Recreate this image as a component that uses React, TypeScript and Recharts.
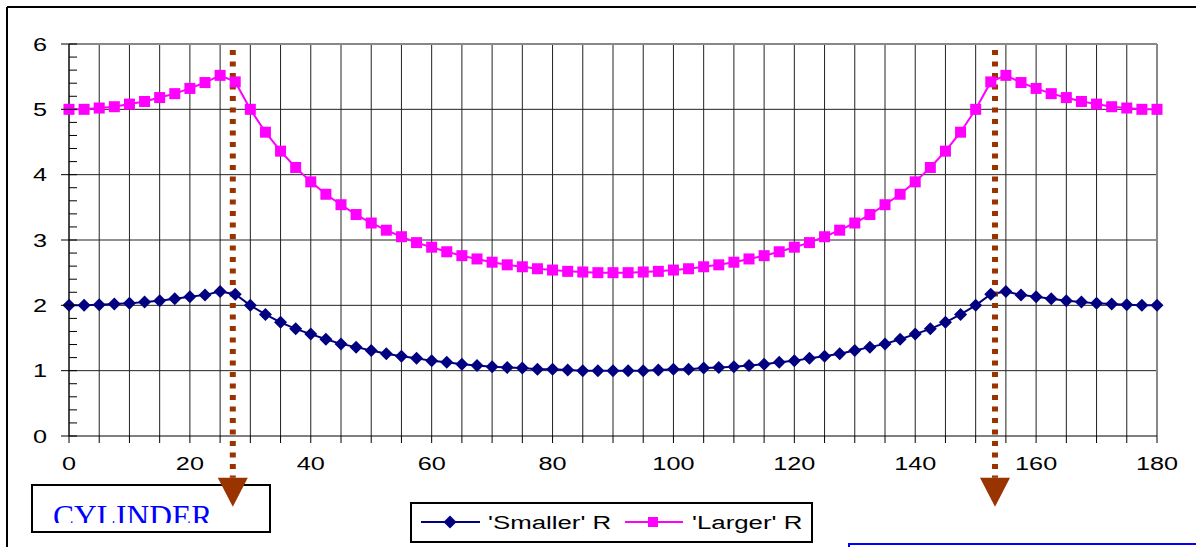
import { LineChart, Line, XAxis, YAxis, CartesianGrid, ReferenceLine, ReferenceDot } from 'recharts';

// angle in degrees, one point every 2.5
const ANGLES = [
  0, 2.5, 5, 7.5, 10, 12.5, 15, 17.5, 20, 22.5, 25, 27.5, 30, 32.5, 35, 37.5, 40, 42.5, 45, 47.5,
  50, 52.5, 55, 57.5, 60, 62.5, 65, 67.5, 70, 72.5, 75, 77.5, 80, 82.5, 85, 87.5, 90, 92.5, 95, 97.5,
  100, 102.5, 105, 107.5, 110, 112.5, 115, 117.5, 120, 122.5, 125, 127.5, 130, 132.5, 135, 137.5,
  140, 142.5, 145, 147.5, 150, 152.5, 155, 157.5, 160, 162.5, 165, 167.5, 170, 172.5, 175, 177.5, 180,
];

const SMALLER_R = [
  2.0, 2.0, 2.01, 2.02, 2.03, 2.05, 2.07, 2.1, 2.13, 2.16, 2.21, 2.17, 2.0, 1.86, 1.74, 1.64, 1.56, 1.48, 1.41, 1.36,
  1.31, 1.26, 1.22, 1.19, 1.15, 1.13, 1.1, 1.08, 1.06, 1.05, 1.04, 1.02, 1.02, 1.01, 1.0, 1.0, 1.0,
  1.0, 1.0, 1.01, 1.02, 1.02, 1.04, 1.05, 1.06, 1.08, 1.1, 1.13, 1.15, 1.19, 1.22, 1.26, 1.31, 1.36, 1.41, 1.48, 1.56,
  1.64, 1.74, 1.86, 2.0, 2.17, 2.21, 2.16, 2.13, 2.1, 2.07, 2.05, 2.03, 2.02, 2.01, 2.0, 2.0,
];

const LARGER_R = [
  5.0, 5.0, 5.02, 5.04, 5.08, 5.12, 5.18, 5.24, 5.32, 5.41, 5.52, 5.42, 5.0, 4.65, 4.36, 4.11, 3.89, 3.7, 3.54, 3.39,
  3.26, 3.15, 3.05, 2.96, 2.89, 2.82, 2.76, 2.71, 2.66, 2.62, 2.59, 2.56, 2.54, 2.52, 2.51, 2.5, 2.5,
  2.5, 2.51, 2.52, 2.54, 2.56, 2.59, 2.62, 2.66, 2.71, 2.76, 2.82, 2.89, 2.96, 3.05, 3.15, 3.26, 3.39, 3.54, 3.7, 3.89,
  4.11, 4.36, 4.65, 5.0, 5.42, 5.52, 5.41, 5.32, 5.24, 5.18, 5.12, 5.08, 5.04, 5.02, 5.0, 5.0,
];

const X_TICKS = [
  0, 5, 10, 15, 20, 25, 30, 35, 40, 45, 50, 55, 60, 65, 70, 75, 80, 85, 90,
  95, 100, 105, 110, 115, 120, 125, 130, 135, 140, 145, 150, 155, 160, 165, 170, 175, 180,
];
const X_LABELS = [0, 20, 40, 60, 80, 100, 120, 140, 160, 180];
const Y_TICKS = [
  0, 0.2, 0.4, 0.6, 0.8, 1, 1.2, 1.4, 1.6, 1.8, 2, 2.2, 2.4, 2.6, 2.8, 3,
  3.2, 3.4, 3.6, 3.8, 4, 4.2, 4.4, 4.6, 4.8, 5, 5.2, 5.4, 5.6, 5.8, 6,
];
const Y_GRID = [1, 2, 3, 4, 5];
const ARROW_ANGLES = [27.1, 153.2];
const SERIES_NAMES = ["'Smaller' R", "'Larger' R"];

const data = ANGLES.map((a, i) => ({ angle: a, smaller: SMALLER_R[i], larger: LARGER_R[i] }));

const FONT = "'Liberation Sans', Arial, sans-serif";
const NAVY = '#000080';
const MAGENTA = '#FF00FF';
const BROWN = '#993300';

const XTick = (props: any) => {
  const { x, y, payload } = props;
  const v = payload.value;
  return (
    <g>
      <line x1={x} x2={x} y1={y} y2={y + 7} stroke="#000" />
      {X_LABELS.includes(v) && (
        <text transform={`translate(${x},${y + 21}) scale(1.33,1)`} textAnchor="middle" dy="0.71em"
          fontFamily={FONT} fontSize={19} fill="#000">{v}</text>
      )}
    </g>
  );
};

const YTick = (props: any) => {
  const { x, y, payload } = props;
  const v = payload.value;
  const major = Math.abs(v - Math.round(v)) < 1e-6;
  return (
    <g>
      <line x1={major ? x - 8 : x} x2={x + 8} y1={y} y2={y} stroke="#000" />
      {major && (
        <text transform={`translate(${x - 22},${y}) scale(1.33,1)`} textAnchor="end" dy="0.355em"
          fontFamily={FONT} fontSize={19} fill="#000">{Math.round(v)}</text>
      )}
    </g>
  );
};

const Diamond = (p: any) => {
  const { cx, cy, index } = p;
  return <path key={`d${index}`} d={`M${cx},${cy - 6.5}L${cx + 6.5},${cy}L${cx},${cy + 6.5}L${cx - 6.5},${cy}Z`} fill={NAVY} />;
};

const Square = (p: any) => {
  const { cx, cy, index } = p;
  return <rect key={`s${index}`} x={cx - 5.5} y={cy - 5.5} width={11} height={11} fill={MAGENTA} />;
};

const ArrowHead = (p: any) => {
  const { cx, cy } = p;
  return <polygon points={`${cx - 15},${cy} ${cx + 15},${cy} ${cx},${cy + 29}`} fill={BROWN} />;
};

export default function App() {
  return (
    <div style={{ position: 'absolute', left: 0, top: 0, width: 1196, height: 547, background: '#fff' }}>
      {/* decorations sit under the transparent chart so the arrow heads overlap them */}
      <svg width={1196} height={547} style={{ position: 'absolute', left: 0, top: 0 }}>
        <defs>
          <clipPath id="cylClip">
            <rect x={33} y={485} width={236} height={38} />
          </clipPath>
        </defs>
        <line x1={7} y1={7} x2={1196} y2={7} stroke="#000" strokeWidth={2} />
        <line x1={7} y1={7} x2={7} y2={547} stroke="#000" strokeWidth={2} />
        <rect x={32} y={485} width={238} height={47} fill="#fff" stroke="#000" strokeWidth={2} />
        <text x={53} y={527} clipPath="url(#cylClip)" fontFamily="'Liberation Serif', 'Times New Roman', serif"
          fontSize={31.5} fill="#0000FF">CYLINDER</text>
        <polyline points="849,548 849,544 1196,544" fill="none" stroke="#0000FF" strokeWidth={2} />
        <rect x={411} y={503} width={401} height={39} fill="#fff" stroke="#000" strokeWidth={2} />
        <line x1={421} x2={480} y1={522} y2={522} stroke={NAVY} strokeWidth={2} />
        <path d="M450,515.5L456.5,522L450,528.5L443.5,522Z" fill={NAVY} />
        <text transform="translate(488,529) scale(1.36,1)" fontFamily={FONT} fontSize={19} fill="#000">{SERIES_NAMES[0]}</text>
        <line x1={625} x2={683} y1={522} y2={522} stroke={MAGENTA} strokeWidth={2} />
        <rect x={648} y={517} width={10} height={10} fill={MAGENTA} />
        <text transform="translate(692,529) scale(1.36,1)" fontFamily={FONT} fontSize={19} fill="#000">{SERIES_NAMES[1]}</text>
      </svg>
      <LineChart width={1196} height={547} data={data} margin={{ top: 44, right: 39, bottom: 81, left: 29 }}>
        <CartesianGrid horizontal={false} stroke="#222" />
        <XAxis dataKey="angle" type="number" domain={[0, 180]} ticks={X_TICKS} interval={0}
          tickSize={0} tickMargin={0} tickLine={false} tick={XTick} height={30}
          axisLine={{ stroke: '#000' }} />
        <YAxis type="number" domain={[0, 6]} ticks={Y_TICKS} interval={0} width={40}
          tickSize={0} tickMargin={0} tickLine={false} tick={YTick}
          axisLine={{ stroke: '#000' }} />
        {Y_GRID.map((g) => (
          <ReferenceLine key={g} y={g} stroke="#222" />
        ))}
        <ReferenceLine y={6} stroke="#888" strokeWidth={2} />
        <ReferenceLine x={180} stroke="#888" strokeWidth={2} />
        <Line dataKey="smaller" name={SERIES_NAMES[0]} type="linear" stroke={NAVY} strokeWidth={2}
          dot={Diamond} activeDot={false} isAnimationActive={false} />
        <Line dataKey="larger" name={SERIES_NAMES[1]} type="linear" stroke={MAGENTA} strokeWidth={2}
          dot={Square} activeDot={false} isAnimationActive={false} />
        {ARROW_ANGLES.map((a) => (
          <ReferenceLine key={`l${a}`} segment={[{ x: a, y: 5.91 }, { x: a, y: -0.64 }]} ifOverflow="visible"
            stroke={BROWN} strokeWidth={6} strokeDasharray="5 6.5" />
        ))}
        {ARROW_ANGLES.map((a) => (
          <ReferenceDot key={`h${a}`} x={a} y={-0.64} ifOverflow="visible" shape={ArrowHead} />
        ))}
      </LineChart>
    </div>
  );
}
